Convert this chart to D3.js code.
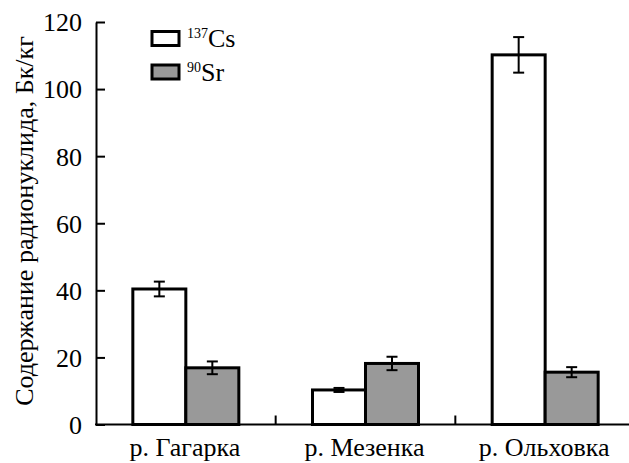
<!DOCTYPE html>
<html><head><meta charset="utf-8">
<script src="https://cdn.jsdelivr.net/npm/d3@7"></script>
<style>body{margin:0;background:#fff}svg{display:block}</style>
</head><body>
<svg id="c" width="629" height="463"></svg>
<script>
const categories = ["р. Гагарка", "р. Мезенка", "р. Ольховка"];
const series = ["137Cs", "90Sr"];
const csValues = [40.4, 10.3, 110.2];
const csErrors = [2.2, 0.6, 5.3];
const srValues = [16.9, 18.2, 15.6];
const srErrors = [1.9, 2.0, 1.5];
const yTicks = [0, 20, 40, 60, 80, 100, 120];
const yTitle = "Содержание радионуклида, Бк/кг";

const FONT = "font-family:'Liberation Serif','Times New Roman','DejaVu Serif',serif";
const svg = d3.select("#c");
const mLeft = 96, mRight = 635, mTop = 22, mBottom = 424.5;
const y = d3.scaleLinear().domain([0, 120]).range([mBottom, mTop]);
const x0 = d3.scaleBand().domain(categories).range([mLeft, mRight]);
const groupW = 106;
const x1 = d3.scaleBand().domain(series).range([0, groupW]);
const fills = {"137Cs": "#ffffff", "90Sr": "#999999"};

const data = [];
categories.forEach((c, i) => {
  data.push({c, s: "137Cs", v: csValues[i], e: csErrors[i]});
  data.push({c, s: "90Sr", v: srValues[i], e: srErrors[i]});
});
const gx = d => x0(d.c) + (x0.bandwidth() - groupW) / 2 + x1(d.s);

svg.selectAll("rect.bar").data(data).join("rect").attr("class", "bar")
  .attr("x", gx).attr("width", x1.bandwidth())
  .attr("y", d => y(d.v)).attr("height", d => y(0) - y(d.v))
  .attr("fill", d => fills[d.s]).attr("stroke", "#000").attr("stroke-width", 3);

const eb = svg.append("g").attr("stroke", "#000").attr("stroke-width", 2);
data.forEach(d => {
  const cx = gx(d) + x1.bandwidth() / 2;
  eb.append("line").attr("x1", cx).attr("x2", cx).attr("y1", y(d.v + d.e)).attr("y2", y(d.v - d.e));
  [d.v + d.e, d.v - d.e].forEach(v => eb.append("line").attr("x1", cx - 5.5).attr("x2", cx + 5.5).attr("y1", y(v)).attr("y2", y(v)));
});

// Y axis
const ya = svg.append("g").attr("transform", `translate(${mLeft},0)`)
  .call(d3.axisLeft(y).tickValues(yTicks).tickSizeInner(-9).tickSizeOuter(0).tickPadding(14));
ya.attr("font-family", "Liberation Serif").attr("font-size", 26);
ya.select(".domain").attr("stroke-width", 2);
ya.selectAll(".tick line").attr("stroke-width", 2);
ya.selectAll(".tick text").attr("style", FONT + ";font-size:26px").attr("fill", "#000").attr("dy", "0.34em");

// X axis
svg.append("line").attr("x1", mLeft - 1).attr("x2", mRight).attr("y1", y(0)).attr("y2", y(0)).attr("stroke", "#000").attr("stroke-width", 2);
categories.slice(1).forEach(c => {
  svg.append("line").attr("x1", x0(c)).attr("x2", x0(c)).attr("y1", y(0)).attr("y2", y(0) - 9).attr("stroke", "#000").attr("stroke-width", 2);
});
svg.selectAll("text.cat").data(categories).join("text").attr("class", "cat")
  .attr("x", c => x0(c) + x0.bandwidth() / 2 - 1).attr("y", 456)
  .attr("text-anchor", "middle").attr("style", FONT + ";font-size:26px").text(c => c);

// Y title
svg.append("text").attr("transform", `translate(33,221) rotate(-90)`)
  .attr("text-anchor", "middle").attr("style", FONT + ";font-size:26px").text(yTitle);

// Legend
const leg = [{s: "137Cs", sup: "137", base: "Cs", y: 31.5}, {s: "90Sr", sup: "90", base: "Sr", y: 65}];
leg.forEach(l => {
  svg.append("rect").attr("x", 152).attr("y", l.y).attr("width", 27).attr("height", 14)
    .attr("fill", fills[l.s]).attr("stroke", "#000").attr("stroke-width", 3);
  const t = svg.append("text").attr("x", 187).attr("y", l.y + 15.5).attr("style", FONT + ";font-size:26px");
  t.append("tspan").attr("style", "font-size:14px").attr("dy", -9).text(l.sup);
  t.append("tspan").attr("dy", 9).text(l.base);
});
</script>
</body></html>
